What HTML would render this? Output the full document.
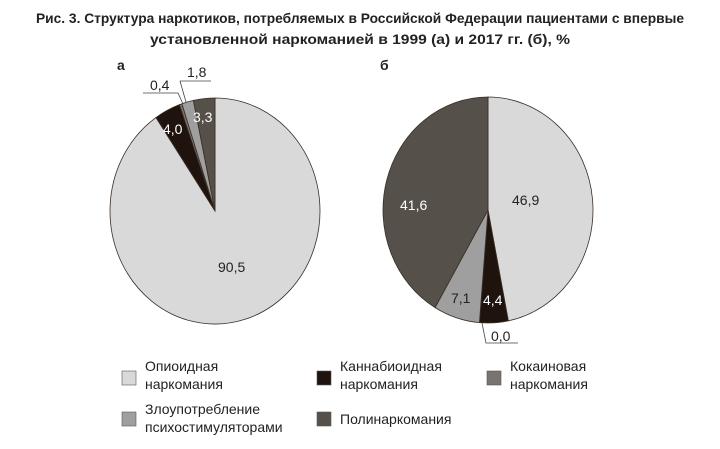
<!DOCTYPE html>
<html><head><meta charset="utf-8"><style>
html,body{margin:0;padding:0;background:#fff}
svg{display:block}
text{font-family:"Liberation Sans",sans-serif}
</style></head><body>
<svg id="s" width="720" height="449" viewBox="0 0 720 449">
<text x="360" y="23" text-anchor="middle" font-size="14" font-weight="bold" fill="#222" textLength="648" lengthAdjust="spacingAndGlyphs">Рис. 3. Структура наркотиков, потребляемых в Российской Федерации пациентами с впервые</text>
<text x="360" y="44" text-anchor="middle" font-size="14" font-weight="bold" fill="#222" textLength="420" lengthAdjust="spacingAndGlyphs">установленной наркоманией в 1999 (а) и 2017 гг. (б), %</text>
<text x="117" y="70" font-size="14" font-weight="bold" fill="#222">а</text>
<text x="380" y="70" font-size="14" font-weight="bold" fill="#222">б</text>
<g id="pa"></g><g id="pb"></g>
<polyline points="143,93 178,93 183,104" fill="none" stroke="#444" stroke-width="0.8"/>
<polyline points="180,81 211,81" fill="none" stroke="#444" stroke-width="0.8"/>
<polyline points="180,81 186,102" fill="none" stroke="#444" stroke-width="0.8"/>
<polyline points="482,323 486,343 518,343" fill="none" stroke="#444" stroke-width="0.8"/>
<g font-size="14" fill="#222">
<text x="150" y="90">0,4</text>
<text x="187" y="77">1,8</text>
<text x="193" y="122" fill="#fff">3,3</text>
<text x="163" y="134" fill="#fff">4,0</text>
<text x="218" y="272">90,5</text>
<text x="512" y="205">46,9</text>
<text x="400" y="210" fill="#fff">41,6</text>
<text x="451" y="303">7,1</text>
<text x="483" y="305" fill="#fff">4,4</text>
<text x="491" y="341">0,0</text>
</g>
<g stroke="#555" stroke-width="0.6">
<rect x="122" y="371" width="14" height="14" fill="#d9d9d9"/>
<rect x="317" y="371" width="14" height="14" fill="#1e140d"/>
<rect x="487" y="371" width="14" height="14" fill="#7a7470"/>
<rect x="122" y="412" width="14" height="14" fill="#a09f9f"/>
<rect x="317" y="412" width="14" height="14" fill="#555049"/>
</g>
<g font-size="14" fill="#222">
<text x="145" y="371">Опиоидная</text><text x="145" y="389">наркомания</text>
<text x="340" y="371">Каннабиоидная</text><text x="340" y="389">наркомания</text>
<text x="510" y="371">Кокаиновая</text><text x="510" y="389">наркомания</text>
<text x="145" y="414">Злоупотребление</text><text x="145" y="432">психостимуляторами</text>
<text x="340" y="424">Полинаркомания</text>
</g>
</svg>
<script>
function pie(g,cx,cy,rx,ry,data){
 var a=0,h='';
 data.forEach(function(d){
  var v=d[0],c=d[1];
  var a2=a+v/100*2*Math.PI;
  var x1=cx+rx*Math.sin(a),y1=cy-ry*Math.cos(a),x2=cx+rx*Math.sin(a2),y2=cy-ry*Math.cos(a2);
  var large=(a2-a)>Math.PI?1:0;
  if(v>0)h+='<path d="M'+cx+','+cy+'L'+x1.toFixed(2)+','+y1.toFixed(2)+'A'+rx+','+ry+' 0 '+large+' 1 '+x2.toFixed(2)+','+y2.toFixed(2)+'Z" fill="'+c+'" stroke="#3a2e25" stroke-width="0.8"/>';
  a=a2;
 });
 document.getElementById(g).innerHTML=h;
}
pie('pa',215,211,105,113,[[90.5,'#d9d9d9'],[4.0,'#1e140d'],[0.4,'#7a7470'],[1.8,'#a09f9f'],[3.3,'#555049']]);
pie('pb',488,210,105,113,[[46.9,'#d9d9d9'],[4.4,'#1e140d'],[0,'#7a7470'],[7.1,'#a09f9f'],[41.6,'#555049']]);
</script>
</body></html>
